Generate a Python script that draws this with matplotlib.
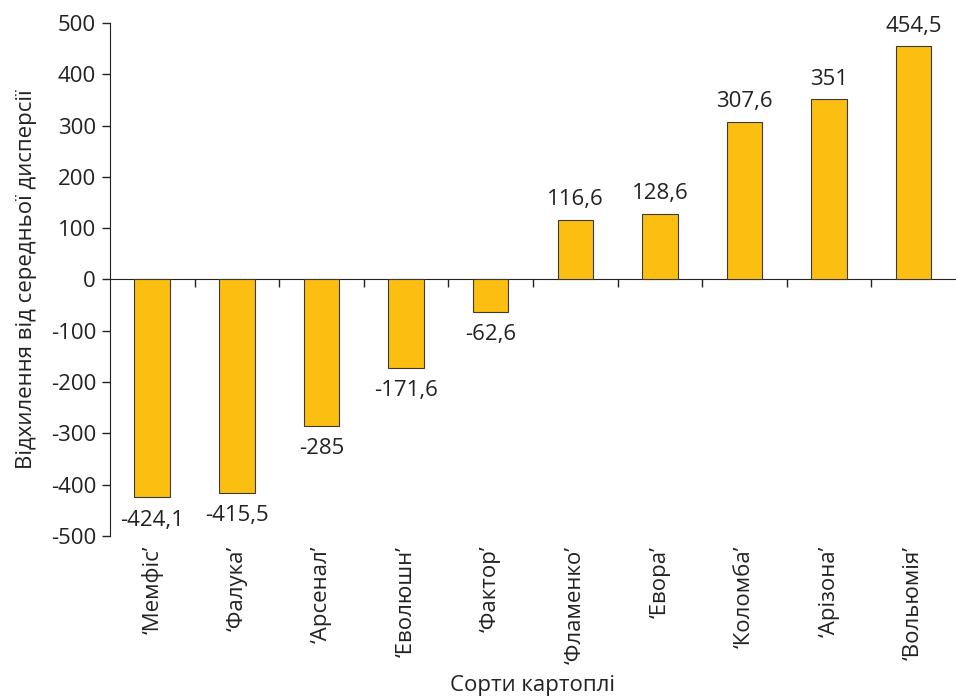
import matplotlib
matplotlib.use("Agg")
import matplotlib.pyplot as plt
from matplotlib.ticker import FixedLocator, NullFormatter

plt.rcParams['font.family'] = ['Open Sans', 'DejaVu Sans']

categories = ["‘Мемфіс’", "‘Фалука’", "‘Арсенал’", "‘Еволюшн’", "‘Фактор’",
              "‘Фламенко’", "‘Евора’", "‘Коломба’", "‘Арізона’", "‘Вольюмія’"]
values = [-424.1, -415.5, -285, -171.6, -62.6, 116.6, 128.6, 307.6, 351, 454.5]
value_labels = ["-424,1", "-415,5", "-285", "-171,6", "-62,6",
                "116,6", "128,6", "307,6", "351", "454,5"]
yticks = [-500, -400, -300, -200, -100, 0, 100, 200, 300, 400, 500]

FS = 16
TXT = '#222222'

fig = plt.figure(figsize=(9.56, 6.97), dpi=100)
ax = fig.add_axes([0.115, 0.231, 0.885, 0.736])

x = list(range(len(categories)))
ax.bar(x, values, width=0.42, color='#FDBE12', edgecolor='#3a3a3a', linewidth=0.8, zorder=3)

for xi, v, lab in zip(x, values, value_labels):
    if v < 0:
        ax.annotate(lab, (xi, v), xytext=(0, -9), textcoords='offset points',
                    ha='center', va='top', fontsize=FS, color=TXT)
    else:
        ax.annotate(lab, (xi, v), xytext=(0, 7), textcoords='offset points',
                    ha='center', va='bottom', fontsize=FS, color=TXT)

ax.set_xlim(-0.5, len(categories) - 0.5)
ax.set_ylim(-500, 500)
ax.set_yticks(yticks)
ax.set_yticklabels([str(t) for t in yticks], fontsize=FS, color=TXT)
ax.tick_params(axis='y', direction='out', length=6, width=1, color=TXT, pad=4)

for s in ['top', 'right']:
    ax.spines[s].set_visible(False)
ax.spines['left'].set_color(TXT)
ax.spines['bottom'].set_position(('data', 0))
ax.spines['bottom'].set_color(TXT)

ax.xaxis.set_major_locator(FixedLocator(x))
ax.xaxis.set_major_formatter(NullFormatter())
ax.xaxis.set_minor_locator(FixedLocator([i + 0.5 for i in x[:-1]]))
ax.tick_params(axis='x', which='major', length=0)
ax.tick_params(axis='x', which='minor', direction='out', length=6, width=1, color=TXT)

sec = ax.secondary_xaxis('bottom')
sec.set_xticks(x)
sec.set_xticklabels(categories, rotation=90, fontsize=FS, color=TXT)
sec.tick_params(length=0, pad=7)
sec.spines['bottom'].set_visible(False)
sec.set_xlabel("Сорти картоплі", fontsize=FS, color=TXT, labelpad=8)

ax.set_ylabel("Відхилення від середньої дисперсії", fontsize=FS, color=TXT, labelpad=10)

fig.savefig("out.png", dpi=100)
